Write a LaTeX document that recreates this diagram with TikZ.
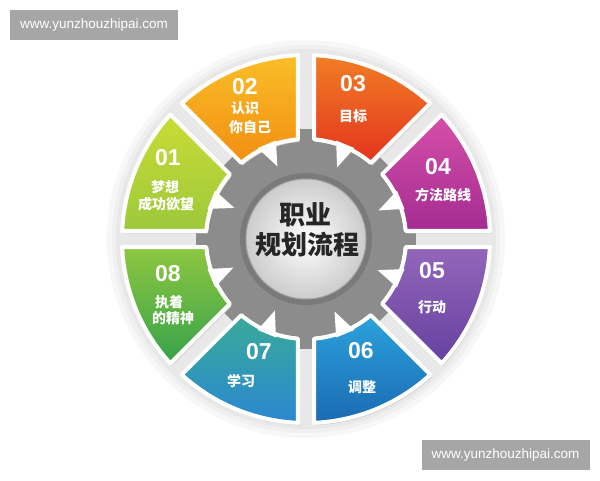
\documentclass[tikz,border=0pt]{standalone}
\usepackage{fontspec}
\newfontfamily\cjk{Noto Sans CJK SC}
\newfontfamily\numf{Liberation Sans}
\usetikzlibrary{calc}
\definecolor{c1a}{HTML}{C9DC35}\definecolor{c1b}{HTML}{9CC93B}
\definecolor{c2a}{HTML}{F9BE27}\definecolor{c2b}{HTML}{F28E12}
\definecolor{c3a}{HTML}{F07E24}\definecolor{c3b}{HTML}{E4341E}
\definecolor{c4a}{HTML}{D64FA8}\definecolor{c4b}{HTML}{A42C92}
\definecolor{c5a}{HTML}{9366BA}\definecolor{c5b}{HTML}{6541A0}
\definecolor{c6a}{HTML}{2BA3DC}\definecolor{c6b}{HTML}{1B6AB2}
\definecolor{c7a}{HTML}{3AAA98}\definecolor{c7b}{HTML}{2A88D2}
\definecolor{c8a}{HTML}{8EC740}\definecolor{c8b}{HTML}{36A24A}
\definecolor{gearcol}{HTML}{8C8C8C}
\definecolor{wmgray}{HTML}{A6A6A6}
\newcommand\segpath[1]{%
    (#1-22.5+4.6:100) -- (#1-22.5+2.5:184)
    arc[start angle=#1-20, end angle=#1+20, radius=184pt]
    -- (#1+22.5-4.6:100)
    arc[start angle=#1+17.9, end angle=#1-17.9, radius=100pt] -- cycle}
\newcommand\wheelseg[3]{%
  \fill[black!18, shift={(1.5,-2.5)}] \segpath{#1};
  \shadedraw[top color=#2, bottom color=#3, draw=white, line width=4pt, line join=round]
    \segpath{#1};
  \fill[white] (#1-5.5:103) -- (#1-1:78) -- (#1+5.5:103) -- cycle;
}
\tikzset{
  numtxt/.style={text=white, font=\numf\bfseries\fontsize{23}{23}\selectfont, inner sep=0pt},
  labtxt/.style={text=white, font=\cjk\bfseries\fontsize{14}{15}\selectfont, inner sep=0pt},
  ctrtxt/.style={text=black!85, font=\cjk\bfseries\fontsize{26}{28}\selectfont, inner sep=0pt},
  wmbox/.style={fill=wmgray, text=white, minimum width=168pt, minimum height=30pt, inner sep=0pt,
    font=\numf\fontsize{13.5}{15}\selectfont}
}
\begin{document}
\begin{tikzpicture}[x=1pt,y=1pt]
\useasboundingbox (0,0) rectangle (600,-480);
\fill[white] (0,0) rectangle (600,-480);
\begin{scope}[shift={(306,-239)}]
  % halo
  \fill[black!3] (0,0) circle (199pt);
  \fill[black!6] (0,0) circle (194pt);
  \fill[black!9] (0,0) circle (190pt);
  % gear
  \fill[gearcol] (0,0) circle (98pt);
  \foreach \g in {0,45,...,315} {
    \fill[gearcol, rotate=\g] (85,-9) rectangle (110,9);
  }
  \fill[black!52] (0,0) circle (66pt);
  % segments
  \wheelseg{157.5}{c1a}{c1b}
  \wheelseg{112.5}{c2a}{c2b}
  \wheelseg{67.5}{c3a}{c3b}
  \wheelseg{22.5}{c4a}{c4b}
  \wheelseg{-22.5}{c5a}{c5b}
  \wheelseg{-67.5}{c6a}{c6b}
  \wheelseg{-112.5}{c7a}{c7b}
  \wheelseg{-157.5}{c8a}{c8b}
  % center
  \shadedraw[inner color=white, outer color=black!20, draw=black!35, line width=1pt] (0,0) circle (60pt);
\end{scope}
% center text
\node[ctrtxt] (ct1) at (305,-215) {职业};
\node[ctrtxt] (ct2) at (307,-245) {规划流程};
% segment texts
\node[numtxt] (n1) at (168,-158) {01};
\node[labtxt] (l1a) at (165,-187) {梦想};
\node[labtxt] (l1b) at (166,-204) {成功欲望};
\node[numtxt] (n2) at (245,-87) {02};
\node[labtxt] (l2a) at (245,-108) {认识};
\node[labtxt] (l2b) at (250,-127) {你自己};
\node[numtxt] (n3) at (353,-84) {03};
\node[labtxt] (l3) at (353,-116) {目标};
\node[numtxt] (n4) at (438,-167) {04};
\node[labtxt] (l4) at (443,-195) {方法路线};
\node[numtxt] (n5) at (432,-271) {05};
\node[labtxt] (l5) at (432,-307) {行动};
\node[numtxt] (n6) at (361,-351) {06};
\node[labtxt] (l6) at (362,-387) {调整};
\node[numtxt] (n7) at (259,-352) {07};
\node[labtxt] (l7) at (241,-381) {学习};
\node[numtxt] (n8) at (168,-274) {08};
\node[labtxt] (l8a) at (169,-302) {执着};
\node[labtxt] (l8b) at (173,-318) {的精神};
% watermarks
\node[wmbox] (wm1) at (94,-25) {www.yunzhouzhipai.com};
\node[wmbox] (wm2) at (505.5,-455) {www.yunzhouzhipai.com};
\end{tikzpicture}
\end{document}
